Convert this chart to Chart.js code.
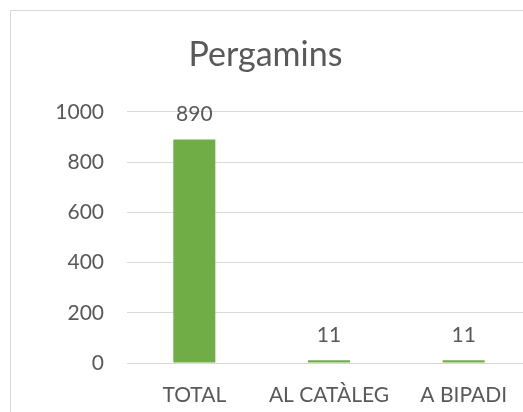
<!DOCTYPE html>
<html>
<head>
<meta charset="utf-8">
<script src="https://cdn.jsdelivr.net/npm/chart.js@4/dist/chart.umd.min.js"></script>
<style>
  html, body { margin: 0; padding: 0; background: #fff; overflow: hidden; }
  #frame { position: absolute; left: 10px; top: 10px; width: 600px; height: 500px;
           border-left: 1px solid #d9d9d9; border-top: 1px solid #d9d9d9; }
  #wrap { position: absolute; left: 0; top: 0; width: 531px; height: 412px; }
</style>
</head>
<body>
<div id="frame"></div>
<div id="wrap"><canvas id="chart"></canvas></div>
<script>
// data
const categories = ['TOTAL', 'AL CATÀLEG', 'A BIPADI'];
const pergamins = [890, 11, 11];
const yTicks = [0, 200, 400, 600, 800, 1000];

const textGray = '#595959';
const fontName = 'Lato, "Open Sans", sans-serif';

// value labels above each bar
const barLabels = {
  id: 'barLabels',
  afterDatasetsDraw(chart) {
    const ctx = chart.ctx;
    const meta = chart.getDatasetMeta(0);
    ctx.save();
    ctx.fillStyle = textGray;
    ctx.font = '21px ' + fontName;
    ctx.textAlign = 'center';
    ctx.textBaseline = 'alphabetic';
    meta.data.forEach(function(bar, i) {
      ctx.fillText(String(pergamins[i]), bar.x, bar.y - 18);
    });
    ctx.restore();
  }
};

var ctx = document.getElementById('chart').getContext('2d');
var myChart = new Chart(ctx, {
  type: 'bar',
  data: {
    labels: categories,
    datasets: [{
      label: 'Pergamins',
      data: pergamins,
      backgroundColor: '#70ad47',
      borderWidth: 0,
      categoryPercentage: 1,
      barPercentage: 0.312
    }]
  },
  options: {
    responsive: true,
    maintainAspectRatio: false,
    animation: false,
    layout: { padding: 0 },
    plugins: {
      legend: { display: false },
      tooltip: { enabled: false },
      title: {
        display: true,
        text: 'Pergamins',
        color: textGray,
        font: { family: fontName, size: 34, weight: 'normal' },
        padding: { top: 35, bottom: 36 }
      }
    },
    scales: {
      x: {
        grid: { display: false },
        border: { display: false },
        ticks: { color: textGray, font: { family: fontName, size: 21 }, padding: 12 },
        afterFit: function(scale) { scale.height = 49; }
      },
      y: {
        min: 0,
        max: 1000,
        afterBuildTicks: function(scale) {
          scale.ticks = yTicks.map(function(v) { return { value: v }; });
        },
        grid: { color: '#d9d9d9', lineWidth: 1, drawTicks: false },
        border: { display: false },
        ticks: {
          color: textGray,
          font: { family: fontName, size: 21 },
          padding: 23,
          callback: function(value) { return String(value); }
        },
        afterFit: function(scale) { scale.width = 127; }
      }
    }
  },
  plugins: [barLabels]
});
</script>
</body>
</html>
